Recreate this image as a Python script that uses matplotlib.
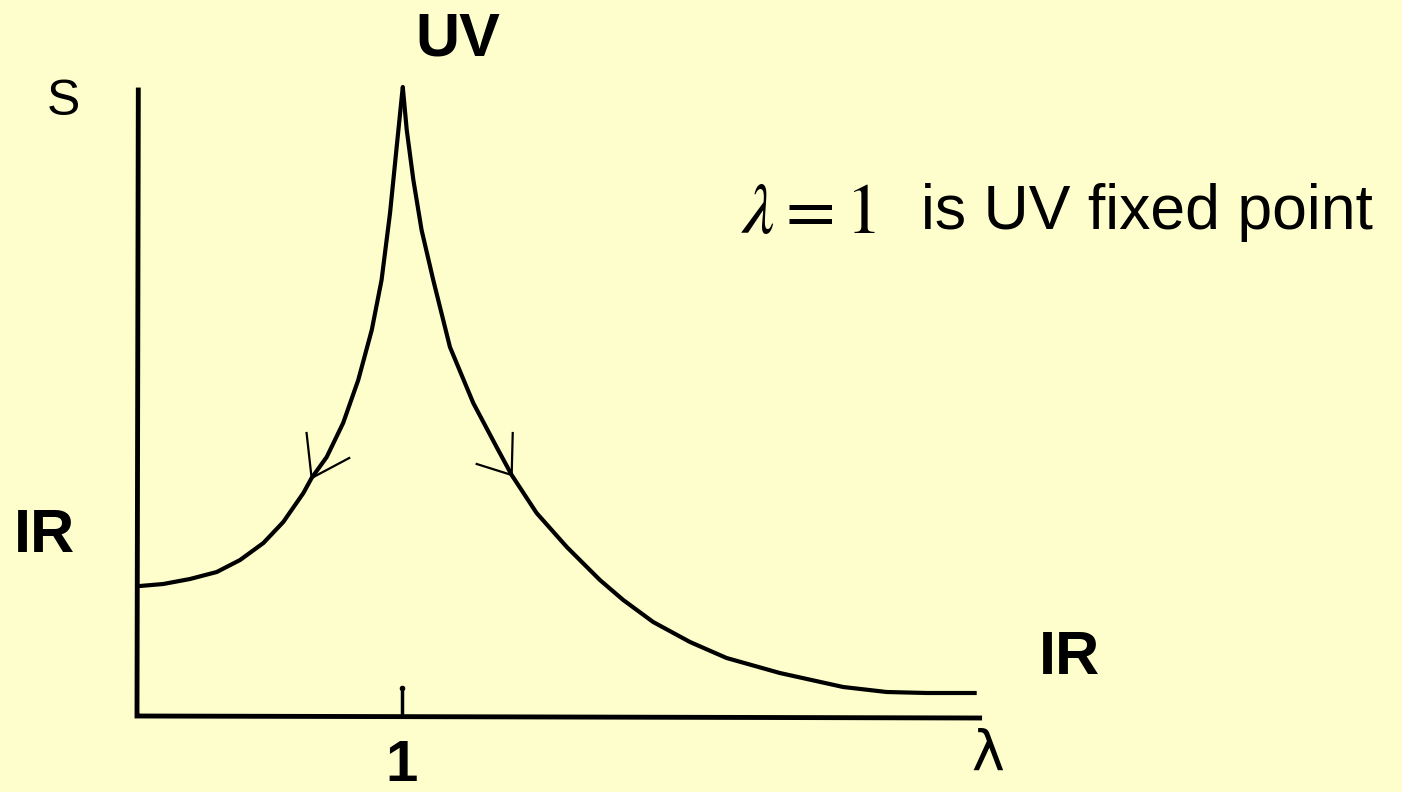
import matplotlib.pyplot as plt
import numpy as np

plt.rcParams['mathtext.fontset'] = 'stix'

# flow curve S(lambda)
lam_left = [0.011, 0.099, 0.200, 0.301, 0.389, 0.477, 0.552, 0.628, 0.659, 0.716,
            0.778, 0.835, 0.886, 0.923, 0.955, 0.980, 1.003]
s_left = [1.30, 1.32, 1.37, 1.44, 1.56, 1.73, 1.94, 2.23, 2.38, 2.59,
          2.93, 3.36, 3.86, 4.36, 5.03, 5.69, 6.29]

lam_right = [1.003, 1.018, 1.043, 1.074, 1.118, 1.181, 1.269, 1.357, 1.414, 1.508,
             1.622, 1.747, 1.835, 1.948, 2.087, 2.225, 2.426, 2.665, 2.829, 2.980, 3.169]
s_right = [6.29, 5.86, 5.36, 4.86, 4.36, 3.69, 3.13, 2.69, 2.41, 2.03,
           1.69, 1.36, 1.16, 0.94, 0.74, 0.58, 0.43, 0.29, 0.24, 0.23, 0.23]

# arrow heads on the two branches: tip, then the two barbs
arrow_left = [(0.659, 2.38), (0.640, 2.83), (0.801, 2.58)]
arrow_right = [(1.414, 2.41), (1.418, 2.83), (1.282, 2.52)]

lam_axis_end = 3.18
s_axis_end = 6.26
tick_lam = 1.0
tick_top = 0.28

bg = '#FEFECC'
fig = plt.figure(figsize=(14.02, 7.92), dpi=100, facecolor=bg)
ax = fig.add_axes([0, 0, 1, 1])
ax.set_facecolor(bg)
ax.set_xlim(-0.517, 4.774)
ax.set_ylim(-0.76, 7.16)
ax.axis('off')

# axes of the sketch
ax.plot([0.005, 0.0, 0.0, lam_axis_end], [s_axis_end, 0.02, 0.0, -0.02],
        color='black', lw=3.5, solid_joinstyle='miter')
ax.plot([tick_lam, tick_lam], [0, tick_top], color='black', lw=2.5)
ax.plot([tick_lam], [tick_top], 'o', color='black', ms=3)

# curve
ax.plot(lam_left, s_left, color='black', lw=3.0, solid_capstyle='round',
        solid_joinstyle='round')
ax.plot(lam_right, s_right, color='black', lw=3.0, solid_capstyle='butt',
        solid_joinstyle='round')

for tip, b1, b2 in [arrow_left, arrow_right]:
    ax.plot([b1[0], tip[0], b2[0]], [b1[1], tip[1], b2[1]], color='black', lw=1.6)

# labels
font = 'Liberation Sans'
ax.text(-0.277, 6.14, 'S', fontsize=36, family=font, ha='center', va='center')
ax.text(1.21, 6.76, 'UV', fontsize=44, family=font, weight='bold', ha='center', va='center')
ax.text(-0.35, 1.79, 'IR', fontsize=44, family=font, weight='bold', ha='center', va='center')
ax.text(3.52, 0.58, 'IR', fontsize=44, family=font, weight='bold', ha='center', va='center')
ax.text(1.0, -0.50, '1', fontsize=42, family=font, weight='bold', ha='center', va='center')
ax.text(3.21, -0.39, 'λ', fontsize=40, family='DejaVu Sans', ha='center', va='center')
ax.text(2.28, 5.02, r'$\lambda = 1$', fontsize=52, ha='left', va='center')
ax.text(2.96, 5.03, 'is UV fixed point', fontsize=45, family=font, ha='left', va='center')

fig.savefig('out.png', dpi=100, facecolor=bg)
